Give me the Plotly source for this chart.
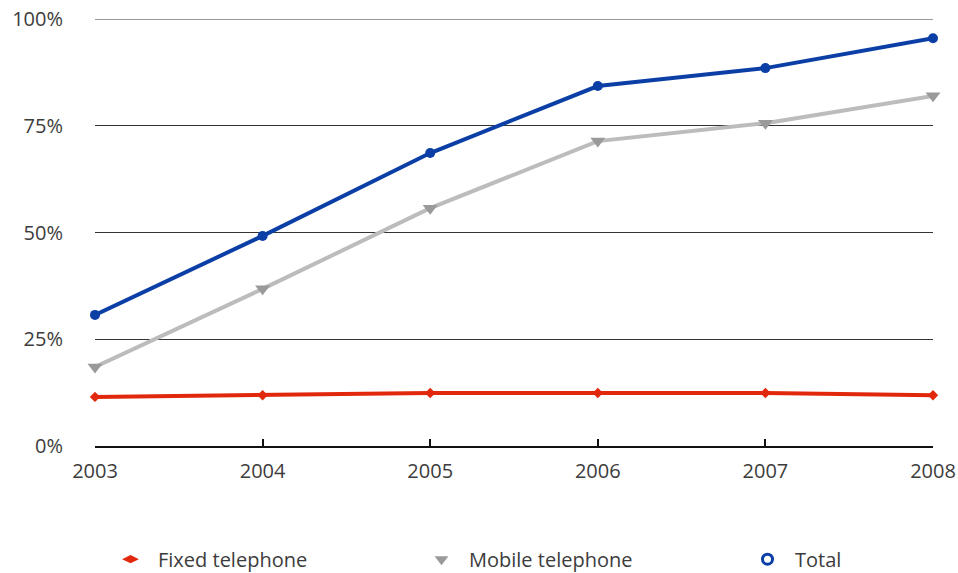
import plotly.graph_objects as go

years = [2003, 2004, 2005, 2006, 2007, 2008]
fixed = [11.5, 11.9, 12.4, 12.4, 12.4, 11.9]
mobile = [18.5, 36.8, 55.7, 71.4, 75.6, 82.0]
total = [30.7, 49.2, 68.6, 84.3, 88.5, 95.5]
y_ticks = [0, 25, 50, 75, 100]
y_labels = ["0%", "25%", "50%", "75%", "100%"]

RED = "#e2280c"
GRAY_LINE = "#bcbcbc"
GRAY_MARK = "#9a9a9a"
BLUE = "#0b3fa6"
TXT = "#3c3c3c"

fig = go.Figure()
fig.add_trace(go.Scatter(x=years, y=fixed, mode="lines+markers", showlegend=False,
                         line=dict(color=RED, width=4),
                         marker=dict(symbol="diamond", size=8, color=RED), cliponaxis=False))
fig.add_trace(go.Scatter(x=years, y=mobile, mode="lines+markers", showlegend=False,
                         line=dict(color=GRAY_LINE, width=4),
                         marker=dict(symbol="triangle-down", size=13, color=GRAY_MARK), cliponaxis=False))
fig.add_trace(go.Scatter(x=years, y=total, mode="lines+markers", showlegend=False,
                         line=dict(color=BLUE, width=4),
                         marker=dict(symbol="circle", size=10, color=BLUE), cliponaxis=False))

# legend-only entries
fig.add_trace(go.Scatter(x=[None], y=[None], mode="markers", name="Fixed telephone", legend="legend",
                         marker=dict(symbol="diamond-wide", size=12, color=RED)))
fig.add_trace(go.Scatter(x=[None], y=[None], mode="markers", name="Mobile telephone", legend="legend2",
                         marker=dict(symbol="triangle-down", size=12, color=GRAY_MARK)))
fig.add_trace(go.Scatter(x=[None], y=[None], mode="markers", name="Total", legend="legend3",
                         marker=dict(symbol="circle-open", size=10, color=BLUE,
                                     line=dict(width=3, color=BLUE))))

def leg(px):
    return dict(orientation="h", x=(px - 95) / 838, xanchor="left", y=-0.265, yanchor="middle",
                itemwidth=45,
                font=dict(size=20, color=TXT), bgcolor="rgba(0,0,0,0)")

fig.update_layout(
    width=958, height=573,
    margin=dict(l=95, r=25, t=19, b=127, autoexpand=False),
    paper_bgcolor="white", plot_bgcolor="white",
    font=dict(family="Open Sans", size=20, color=TXT),
    xaxis=dict(range=[2003, 2008], tickvals=years, ticktext=[str(y) for y in years],
               showgrid=False, zeroline=False, showline=True, linecolor="#111", linewidth=1.5,
               ticks="inside", ticklen=7, tickcolor="#111", tickwidth=1.5,
               ticklabelstandoff=6,
               tickfont=dict(size=20, color=TXT)),
    yaxis=dict(range=[0, 100], tickvals=y_ticks, ticktext=y_labels,
               showgrid=True, gridcolor="#333333", gridwidth=1, zeroline=False,
               showline=False, ticks="", ticklabelstandoff=31,
               tickfont=dict(size=20, color=TXT)),
    shapes=[dict(type="line", xref="paper", x0=0, x1=1, yref="y", y0=100, y1=100,
                 line=dict(color="#333333", width=1), layer="below")],
    legend=leg(103),
    legend2=leg(414),
    legend3=leg(740),
)

fig.write_html("out.html")
